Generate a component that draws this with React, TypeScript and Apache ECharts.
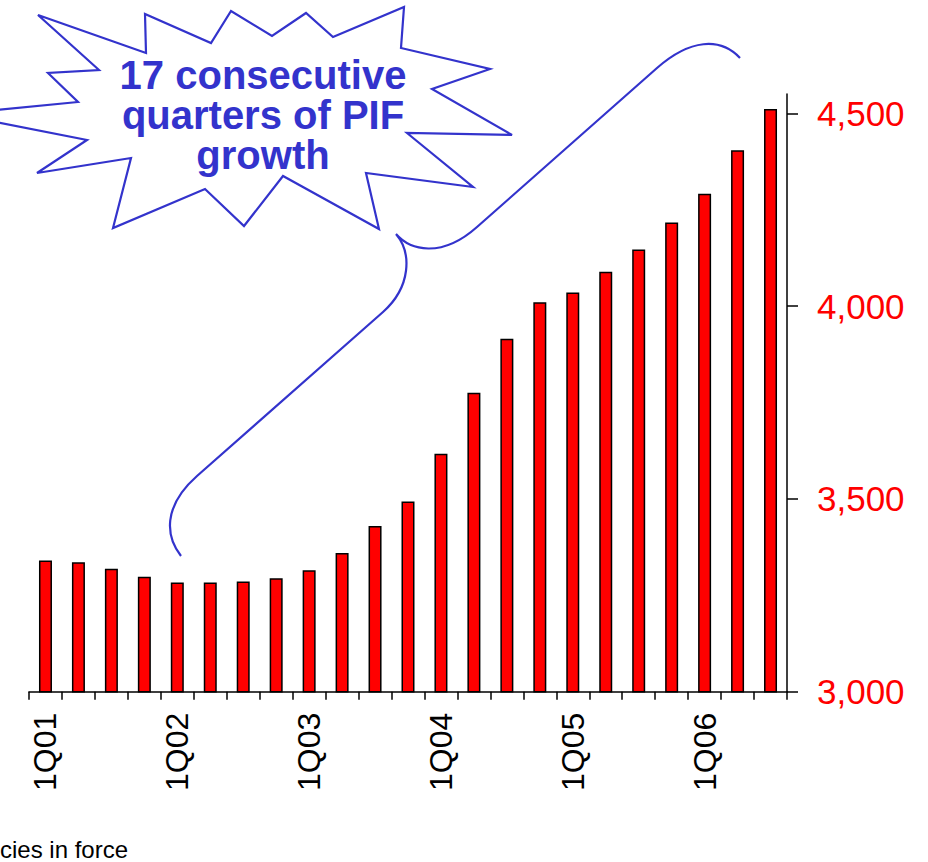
import React, { useEffect, useRef } from "react";
import * as echarts from "echarts";

const quarters = [
  "1Q01", "2Q01", "3Q01", "4Q01",
  "1Q02", "2Q02", "3Q02", "4Q02",
  "1Q03", "2Q03", "3Q03", "4Q03",
  "1Q04", "2Q04", "3Q04", "4Q04",
  "1Q05", "2Q05", "3Q05", "4Q05",
  "1Q06", "2Q06", "3Q06",
];
const policiesInForce = [
  3340, 3336, 3319, 3298,
  3283, 3283, 3286, 3294,
  3315, 3360, 3430, 3493,
  3617, 3775, 3915, 4010,
  4035, 4089, 4147, 4217,
  4291, 4404, 4511,
];
const yTicks = [3000, 3500, 4000, 4500];
const calloutLines = ["17 consecutive", "quarters of PIF", "growth"];
const footnote = "cies in force";

const BLUE = "#3333cc";
const FONT = "'Liberation Sans', Arial, Helvetica, sans-serif";

const burstPoints: number[][] = [
  [38, 15], [99, 70], [48, 73], [78, 102], [-46, 114], [87, 140], [37, 173],
  [131, 158], [113, 228], [205, 189], [244, 226], [283, 176], [379, 229],
  [366, 173], [473, 187], [407, 133], [512, 135], [432, 89], [490, 69],
  [401, 48], [404, 7], [333, 37], [306, 13], [272, 36], [231, 11], [211, 43],
  [145, 14], [146, 53],
];

const braceD =
  "M181,556 C166,537 162,507 197,476 L383,312 C411,287 412,253 396,234 " +
  "M396,234 C410,250 441,259 477,227 L657,68 C690,39 720,37 740,58";

let registered = false;
function ensureShape() {
  if (registered) return;
  echarts.graphic.registerShape("brace", echarts.graphic.extendPath(braceD, {}) as any);
  registered = true;
}

export default function App() {
  const ref = useRef<HTMLDivElement>(null);
  useEffect(() => {
    if (!ref.current) return;
    ensureShape();
    const chart = echarts.init(ref.current, null, { renderer: "svg" });
    chart.setOption({
      animation: false,
      backgroundColor: "#ffffff",
      grid: { left: 29, right: 141, top: 94, bottom: 170.3, containLabel: false },
      xAxis: {
        type: "category",
        data: quarters,
        boundaryGap: true,
        axisLine: { lineStyle: { color: "#000", width: 1.5 } },
        axisTick: { show: true, length: 8, interval: 0, lineStyle: { color: "#000", width: 1.5 } },
        axisLabel: {
          interval: 3,
          rotate: 90,
          margin: 21,
          color: "#000",
          fontSize: 32,
          fontFamily: FONT,
        },
        splitLine: { show: false },
      },
      yAxis: {
        type: "value",
        position: "right",
        min: 3000,
        max: 4550,
        interval: 500,
        axisLine: { show: true, lineStyle: { color: "#000", width: 1.5 } },
        axisTick: {
          show: true,
          length: 11,
          customValues: yTicks,
          lineStyle: { color: "#000", width: 1.5 },
        },
        axisLabel: {
          customValues: yTicks,
          margin: 30,
          color: "#ff0000",
          fontSize: 35,
          fontFamily: FONT,
          formatter: (v: number) => v.toLocaleString("en-US"),
        },
        splitLine: { show: false },
      },
      series: [
        {
          type: "bar",
          data: policiesInForce,
          barWidth: 13,
          itemStyle: { color: "#ff0000", borderColor: "#000", borderWidth: 1.5 },
        },
      ],
      graphic: [
        {
          type: "polygon",
          shape: { points: burstPoints },
          style: { fill: "#ffffff", stroke: BLUE, lineWidth: 2.2 },
          z: 10,
        },
        ...calloutLines.map((line, i) => ({
          type: "text",
          x: 263,
          y: 75 + i * 40,
          style: {
            text: line,
            fill: BLUE,
            font: `bold 40px ${FONT}`,
            align: "center",
            verticalAlign: "middle",
          },
          z: 11,
        })),
        {
          type: "brace",
          x: 0,
          y: 0,
          style: { fill: "none", stroke: BLUE, lineWidth: 2.2 },
          z: 10,
        },
        {
          type: "text",
          x: 0,
          y: 849,
          style: {
            text: footnote,
            fill: "#000",
            font: `24px ${FONT}`,
            align: "left",
            verticalAlign: "middle",
          },
        },
      ],
    });
    return () => chart.dispose();
  }, []);
  return (
    <div
      ref={ref}
      style={{ position: "fixed", left: 0, top: 0, width: 928, height: 862 }}
    />
  );
}
